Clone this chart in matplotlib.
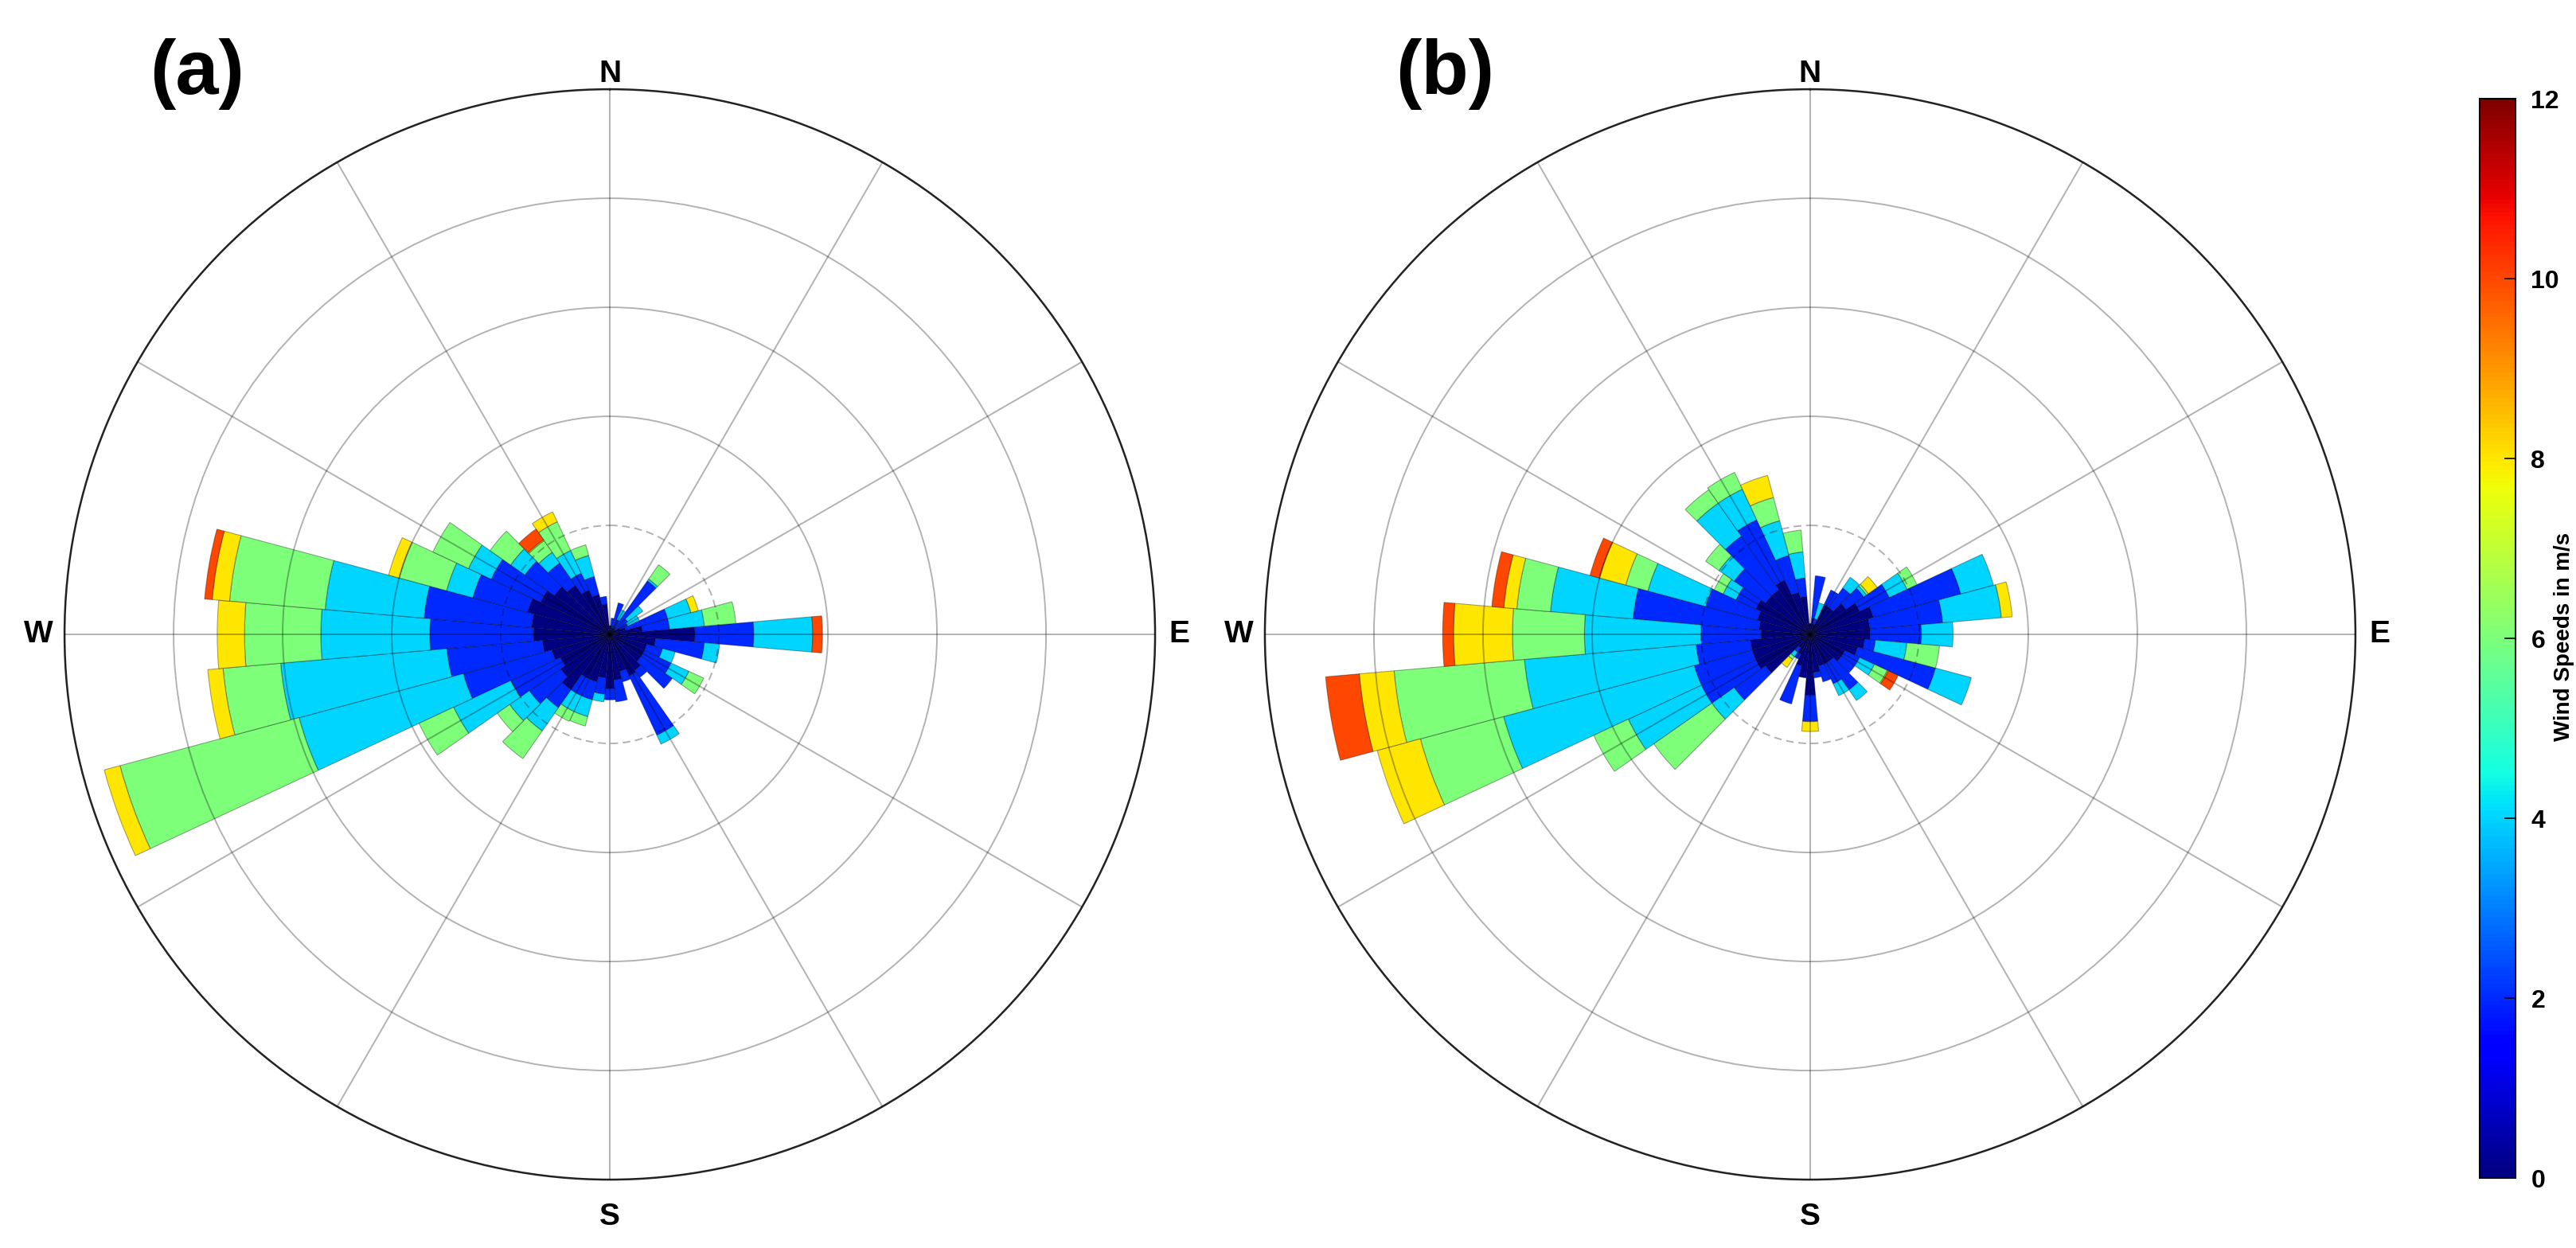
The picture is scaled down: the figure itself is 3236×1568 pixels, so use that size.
import numpy as np
import matplotlib
matplotlib.use('Agg')
import matplotlib.pyplot as plt
from matplotlib import cm, colors

# directions (deg, clockwise from north), speed classes in m/s
dirs = np.arange(0, 360, 10)
speed_edges = [0, 2, 4, 6, 8, 10, 12]

# (a) cumulative frequency of wind slower than 2, 4, ..., 12 m/s, one value per direction
a_lt2 = [0.08, 0.08, 0.06, 0.06, 0.08, 0.06, 0.10, 0.15, 0.30, 0.78, 0.42, 0.35, 0.35, 0.35, 0.40, 0.42, 0.35, 0.42,
         0.50, 0.40, 0.45, 0.45, 0.62, 0.55, 0.50, 0.55, 0.62, 0.70, 0.72, 0.78, 0.70, 0.62, 0.55, 0.45, 0.38, 0.28]
a_lt4 = [0.08, 0.15, 0.30, 0.15, 0.60, 0.20, 0.18, 0.55, 0.55, 1.32, 0.87, 0.50, 0.62, 0.70, 0.48, 1.02, 0.45, 0.62,
         0.60, 0.55, 0.62, 0.62, 0.82, 0.90, 1.00, 1.39, 1.50, 1.65, 1.71, 1.30, 1.20, 0.95, 0.80, 0.62, 0.55, 0.35]
a_lt6 = [0.08, 0.15, 0.30, 0.25, 0.62, 0.37, 0.30, 0.77, 0.87, 1.86, 1.01, 0.62, 0.80, 0.70, 0.48, 1.11, 0.45, 0.62,
         0.60, 0.62, 0.78, 0.78, 1.08, 1.12, 1.58, 2.95, 3.03, 2.65, 2.62, 1.55, 1.43, 1.11, 0.92, 0.85, 0.75, 0.35]
a_lt8 = [0.08, 0.15, 0.30, 0.25, 0.78, 0.37, 0.30, 0.77, 1.16, 1.86, 1.01, 0.62, 0.95, 0.70, 0.48, 1.11, 0.45, 0.62,
         0.60, 0.62, 0.87, 0.88, 1.39, 1.26, 1.93, 4.65, 3.56, 3.35, 3.50, 2.00, 1.79, 1.34, 1.05, 1.14, 0.85, 0.35]
a_lt10 = [0.08, 0.15, 0.30, 0.25, 0.78, 0.37, 0.30, 0.84, 1.16, 1.86, 1.01, 0.62, 0.95, 0.70, 0.48, 1.11, 0.45, 0.62,
          0.60, 0.62, 0.87, 0.88, 1.39, 1.26, 1.93, 4.80, 3.70, 3.60, 3.66, 2.10, 1.79, 1.34, 1.06, 1.24, 0.85, 0.35]
a_lt12 = [0.08, 0.15, 0.30, 0.25, 0.78, 0.37, 0.30, 0.84, 1.16, 1.95, 1.01, 0.62, 0.95, 0.70, 0.48, 1.11, 0.45, 0.62,
          0.60, 0.62, 0.87, 0.88, 1.39, 1.26, 1.93, 4.80, 3.70, 3.60, 3.73, 2.10, 1.79, 1.34, 1.18, 1.24, 0.85, 0.35]

# (b)
b_lt2 = [0.10, 0.15, 0.10, 0.30, 0.30, 0.40, 0.50, 0.60, 0.55, 0.55, 0.50, 0.45, 0.35, 0.35, 0.30, 0.30, 0.30, 0.35,
         0.56, 0.40, 0.30, 0.20, 0.15, 0.50, 0.55, 0.55, 0.55, 0.45, 0.47, 0.50, 0.55, 0.50, 0.50, 0.55, 0.40, 0.35]
b_lt4 = [0.10, 0.54, 0.15, 0.45, 0.52, 0.60, 0.80, 1.43, 1.22, 1.02, 0.60, 1.19, 0.50, 0.50, 0.62, 0.50, 0.45, 0.40,
         0.80, 0.40, 0.66, 0.25, 0.20, 0.85, 1.10, 1.10, 1.05, 1.00, 1.63, 0.99, 0.75, 0.85, 1.10, 1.16, 0.75, 0.52]
b_lt6 = [0.10, 0.54, 0.30, 0.45, 0.64, 0.63, 0.98, 1.74, 1.76, 1.31, 0.89, 1.53, 0.65, 0.50, 0.74, 0.62, 0.45, 0.40,
         0.80, 0.40, 0.66, 0.25, 0.25, 1.10, 1.84, 2.91, 2.63, 2.07, 2.39, 1.54, 0.88, 1.02, 1.47, 1.47, 1.08, 0.76]
b_lt8 = [0.10, 0.54, 0.30, 0.45, 0.64, 0.65, 1.08, 1.74, 1.76, 1.31, 1.19, 1.53, 0.78, 0.50, 0.74, 0.62, 0.45, 0.40,
         0.80, 0.40, 0.66, 0.25, 0.28, 1.75, 2.19, 3.70, 3.83, 2.73, 2.70, 1.75, 0.97, 1.17, 1.62, 1.64, 1.30, 0.96]
b_lt10 = [0.10, 0.54, 0.30, 0.45, 0.64, 0.75, 1.08, 1.74, 1.86, 1.31, 1.19, 1.53, 0.79, 0.50, 0.74, 0.62, 0.45, 0.40,
          0.89, 0.40, 0.66, 0.25, 0.37, 1.75, 2.19, 4.11, 4.15, 3.27, 2.82, 2.00, 0.97, 1.17, 1.62, 1.64, 1.51, 0.96]
b_lt12 = [0.10, 0.54, 0.30, 0.45, 0.64, 0.75, 1.08, 1.74, 1.86, 1.31, 1.19, 1.53, 0.89, 0.50, 0.74, 0.62, 0.45, 0.40,
          0.89, 0.40, 0.66, 0.25, 0.37, 1.75, 2.19, 4.11, 4.46, 3.37, 2.93, 2.09, 0.97, 1.17, 1.62, 1.64, 1.51, 0.96]

panels = {
    '(a)': [a_lt2, a_lt4, a_lt6, a_lt8, a_lt10, a_lt12],
    '(b)': [b_lt2, b_lt4, b_lt6, b_lt8, b_lt10, b_lt12],
}

cmap = plt.get_cmap('jet')
norm = colors.Normalize(vmin=0, vmax=12)
plt.rcParams['font.family'] = ['Liberation Sans', 'DejaVu Sans']

fig = plt.figure(figsize=(32.36, 15.68), dpi=100)

ax_w, ax_h = 0.4234, 0.8737
positions = [0.02503, 0.4910]
theta = np.deg2rad(dirs)
width = np.deg2rad(10)

for (tag, cum), x0 in zip(panels.items(), positions):
    ax = fig.add_axes([x0, 0.0548, ax_w, ax_h], projection='polar')
    ax.set_theta_zero_location('N')
    ax.set_theta_direction(-1)
    ax.set_ylim(0, 5)

    prev = np.zeros(len(dirs))
    for k, upper in enumerate(cum):
        upper = np.array(upper)
        h = upper - prev
        m = h > 1e-6
        ax.bar(theta[m], h[m], width=width, bottom=prev[m], align='center',
               color=cmap(norm(speed_edges[k])), edgecolor=(0, 0, 0, 0.35), linewidth=0.8, zorder=1)
        prev = upper

    # grid drawn over the bars, semi transparent
    ax.set_thetagrids(range(0, 360, 30), labels=[''] * 12)
    ax.set_rgrids([1, 2, 3, 4], labels=[''] * 4)
    ax.set_axisbelow(False)
    ax.grid(True, color='black', alpha=0.3, linewidth=1.4)
    ax.yaxis.get_gridlines()[0].set_linestyle((0, (5, 3)))
    ax.spines['polar'].set_linewidth(1.8)
    ax.spines['polar'].set_color('#222222')

    kw = dict(transform=ax.transAxes, ha='center', va='center', fontsize=28, fontweight='bold')
    ax.text(0.5, 1.014, 'N', **kw)
    ax.text(0.5, -0.034, 'S', **kw)
    ax.text(-0.024, 0.5, 'W', **kw)
    ax.text(1.022, 0.5, 'E', **kw)

fig.text(0.0766, 0.9407, '(a)', ha='center', va='center', fontsize=70, fontweight='bold')
fig.text(0.561, 0.9407, '(b)', ha='center', va='center', fontsize=70, fontweight='bold')

cax = fig.add_axes([0.9625, 0.0561, 0.014, 0.8648])
sm = cm.ScalarMappable(norm=norm, cmap=cmap)
cb = fig.colorbar(sm, cax=cax, ticks=speed_edges)
cb.outline.set_linewidth(1.5)
cax.tick_params(direction='in', length=10, width=1.2, labelsize=23, pad=14)
for lab in cax.get_yticklabels():
    lab.set_fontweight('bold')
fig.text(0.9955, 0.49, 'Wind Speeds in m/s', rotation=90, ha='center', va='center',
         fontsize=20, fontweight='bold')

fig.savefig('out.png', dpi=100)
